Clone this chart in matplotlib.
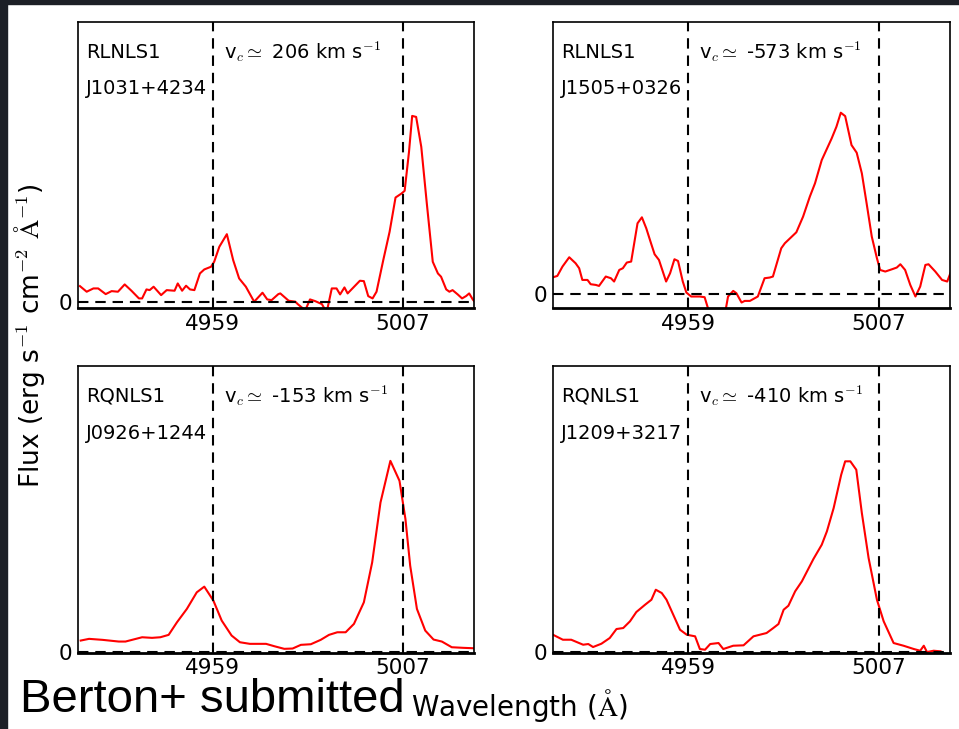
import matplotlib
matplotlib.use("Agg")
import matplotlib.pyplot as plt
from matplotlib.patches import Rectangle

plt.rcParams['mathtext.fontset'] = 'cm'

# [OIII] profiles, flux in arbitrary units, wavelength in Angstrom
wl_j1031 = [4925.5, 4927.2, 4928.9, 4930.1, 4932.0, 4933.5, 4935.1, 4936.8, 4938.5, 4940.4,
            4941.2, 4942.3, 4943.1, 4944.1, 4946.0, 4947.4, 4949.4, 4950.2, 4951.3, 4952.3,
            4953.3, 4954.4, 4955.8, 4956.9, 4958.6, 4959.4, 4960.7, 4962.6, 4964.2, 4965.7,
            4967.4, 4969.5, 4971.6, 4972.8, 4973.9, 4975.6, 4976.1, 4978.2, 4979.9, 4980.5,
            4982.4, 4983.6, 4984.9, 4986.6, 4987.8, 4989.1, 4990.3, 4991.2, 4992.3, 4993.1,
            4996.2, 4997.2, 4998.3, 4999.4, 5000.4, 5002.1, 5003.7, 5005.2, 5006.7, 5007.5,
            5008.6, 5009.4, 5010.4, 5011.7, 5013.1, 5014.6, 5015.9, 5016.7, 5018.0, 5018.8,
            5019.6, 5020.9, 5022.0, 5023.0, 5023.8, 5024.7, 5025.1]
fl_j1031 = [16.3, 10.7, 14, 14, 8.3, 11.3, 10.7, 18, 11.7, 4,
            4, 13, 12.3, 15.7, 7.3, 12.3, 11.7, 19, 11.7, 16.7,
            13, 12.3, 29, 33, 35.7, 40.7, 55.7, 68.3, 42.3, 24,
            15.7, 0.7, 9.7, 3, 2.3, 8.3, 9, 1.7, 0.7, -1.7,
            -8, 3, 1.3, -1.7, -10, 14, 14, 8, 15, 9,
            21.7, 21.3, 6.3, 4, 10.7, 42.3, 70.7, 105, 109, 111.7,
            150.7, 186.7, 185.7, 155.7, 99, 40.7, 29, 25.7, 13, 10.7,
            12.3, 8, 4, 6.3, 9, 3, 1]

wl_j1505 = [4924.8, 4926.1, 4927.4, 4929.1, 4930.7, 4931.6, 4932.4, 4933.7, 4934.5, 4935.8,
            4936.6, 4938.3, 4939.6, 4940.4, 4941.7, 4942.6, 4943.6, 4944.7, 4946.3, 4947.4,
            4948.5, 4949.7, 4950.6, 4951.7, 4953.5, 4954.5, 4955.6, 4956.5, 4957.7, 4958.6,
            4959.8, 4962.0, 4963.2, 4964.5, 4968.3, 4969.1, 4970.4, 4971.2, 4972.5, 4973.3,
            4974.6, 4976.6, 4978.3, 4979.6, 4980.4, 4982.5, 4983.4, 4986.3, 4988.0, 4989.7,
            4991.0, 4992.7, 4995.2, 4996.4, 4997.5, 4998.6, 5000.2, 5001.5, 5002.8, 5004.0,
            5005.3, 5006.6, 5007.4, 5008.7, 5010.4, 5011.6, 5012.5, 5013.7, 5015.0, 5016.3,
            5017.5, 5018.8, 5019.6, 5021.3, 5023.0, 5024.3, 5025.1]
fl_j1505 = [16.7, 18.3, 27.7, 37, 31, 26, 14.3, 14.3, 10, 9.3,
            8.3, 17.7, 16, 12.7, 24.3, 26, 31.7, 32.7, 71, 77,
            66, 51, 40, 34.3, 12.7, 21, 35, 33.3, 12.7, 1.7,
            -2.3, -2.3, -3, -20, -20, -2.3, 3.3, 1, -8.3, -6.7,
            -6.7, -2.3, 16, 16.7, 17.7, 46, 51, 62, 77.7, 97.7,
            111, 134.3, 156, 167.7, 181.7, 178.3, 149.3, 141.7, 121, 91,
            57.7, 36, 24.3, 22.7, 25, 26.7, 30, 24.3, 9.3, -2.3,
            7.7, 29.3, 30, 22.7, 14.3, 12.7, 21]

wl_j0926 = [4925.7, 4927.8, 4931.2, 4935.3, 4937.0, 4941.2, 4943.7, 4945.8, 4947.9, 4950.0,
            4952.5, 4955.0, 4956.9, 4959.2, 4961.3, 4963.8, 4965.9, 4968.4, 4972.5, 4974.6,
            4977.1, 4979.2, 4981.3, 4983.8, 4986.3, 4988.4, 4990.5, 4992.6, 4994.7, 4997.2,
            4999.3, 5001.4, 5003.9, 5006.2, 5007.7, 5008.9, 5010.6, 5012.7, 5014.8, 5016.9,
            5019.4, 5022.3, 5024.8]
fl_j0926 = [11, 12.7, 11.7, 10, 10, 14.3, 13.7, 14.3, 16.7, 29.3,
            42.7, 59.3, 65, 51, 31, 16, 9.3, 7.7, 7.7, 5.3,
            2.7, 3, 6.7, 7.3, 11.7, 16.7, 19.3, 19.3, 27.7, 49.3,
            89.3, 149.3, 191, 171, 132.7, 86, 42.7, 21, 12, 10,
            4.3, 3.7, 3.3]

wl_j1209 = [4925.0, 4927.5, 4929.6, 4932.6, 4933.9, 4935.1, 4937.2, 4939.3, 4941.0, 4942.7,
            4944.4, 4946.0, 4948.2, 4949.8, 4950.9, 4952.4, 4953.6, 4955.3, 4957.0, 4958.7,
            4960.8, 4962.0, 4963.3, 4964.6, 4966.7, 4967.9, 4970.4, 4973.0, 4975.5, 4978.8,
            4980.5, 4981.8, 4983.1, 4984.3, 4986.0, 4987.7, 4990.6, 4992.7, 4994.0, 4995.7,
            4997.6, 4998.6, 4999.9, 5001.4, 5002.8, 5004.5, 5006.6, 5008.3, 5010.8, 5013.3,
            5015.9, 5017.5, 5018.4, 5019.2, 5020.9, 5022.6]
fl_j1209 = [17.3, 12.3, 12.3, 7.3, 8, 5, 8.3, 14, 23, 24,
            30.7, 40, 47.3, 52.3, 62.3, 59, 52.3, 37.3, 22.3, 17.3,
            15.7, 3, 2.3, 8, 9, 3, 6.3, 6.7, 15.7, 19,
            24, 28, 42.3, 46.3, 60.7, 70.7, 93, 107.3, 120.7, 144,
            177.3, 190.7, 190.7, 182.3, 139, 94, 52.3, 30.7, 9, 6.3,
            3, 1.3, 6.3, 0, 1.3, 0.7]

classes = ["RLNLS1", "RLNLS1", "RQNLS1", "RQNLS1"]
names = ["J1031+4234", "J1505+0326", "J0926+1244", "J1209+3217"]
vshift = ["206", "-573", "-153", "-410"]
waves = [wl_j1031, wl_j1505, wl_j0926, wl_j1209]
fluxes = [fl_j1031, fl_j1505, fl_j0926, fl_j1209]
ylims = [(-5.6, 280.7), (-13.8, 272.5), (-1.0, 286.0), (-0.5, 286.0)]
lines = [4959, 5007]

fig = plt.figure(figsize=(9.59, 7.29), dpi=100)

# dark slide background peeking in at the edges
fig.patches.append(Rectangle((0, 0), 7/959, 1, transform=fig.transFigure, color='#1c1f26', zorder=0))
fig.patches.append(Rectangle((0, 1 - 4/729), 1, 4/729, transform=fig.transFigure, color='#1c1f26', zorder=0))

boxes = [[0.0813, 0.5775, 0.4129, 0.3923],
         [0.5766, 0.5775, 0.4140, 0.3923],
         [0.0813, 0.1049, 0.4129, 0.3930],
         [0.5766, 0.1049, 0.4140, 0.3930]]

for i in range(4):
    ax = fig.add_axes(boxes[i])
    ax.plot(waves[i], fluxes[i], color='red', lw=1.5)
    for l in lines:
        ax.axvline(l, color='black', lw=1.5, linestyle=(0, (5, 3.3)))
    ax.axhline(0, color='black', lw=1.5, linestyle=(0, (5, 3.3)))
    ax.set_xlim(4925, 5025)
    ax.set_ylim(ylims[i])
    ax.set_xticks(lines)
    ax.set_yticks([0])
    ax.tick_params(length=0, labelsize=15.5, pad=4)
    ax.tick_params(axis='y', pad=4)
    for s in ['top', 'left', 'right']:
        ax.spines[s].set_linewidth(1.2)
    ax.spines['bottom'].set_linewidth(2)
    ax.text(0.02, 0.895, classes[i], transform=ax.transAxes, fontsize=14, va='center')
    ax.text(0.02, 0.766, names[i], transform=ax.transAxes, fontsize=14, va='center')
    ax.text(0.369, 0.895, "v$_c \\simeq$ " + vshift[i] + " km s$^{-1}$", transform=ax.transAxes,
            fontsize=14, va='center')

fig.text(0.031, 0.54, "Flux (erg s$^{-1}$ cm$^{-2}$ $\\mathrm{\\AA}^{-1}$)", rotation=90,
         ha='center', va='center', fontsize=19)
fig.text(0.541, 0.032, "Wavelength ($\\mathrm{\\AA}$)", ha='center', va='center', fontsize=20)
fig.text(0.021, 0.0233, "Berton+ submitted", family='Liberation Sans', fontsize=34, va='baseline')

fig.savefig("out.png", dpi=100)
